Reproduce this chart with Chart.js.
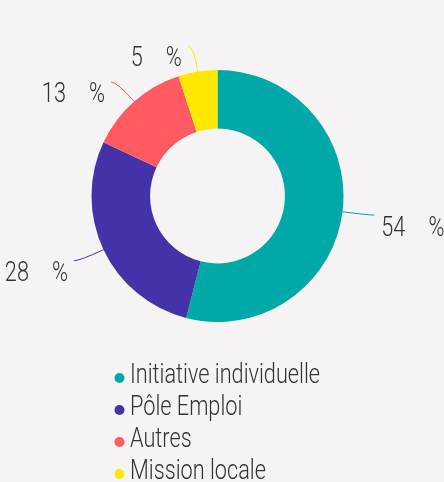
<!DOCTYPE html>
<html><head><meta charset="utf-8">
<style>html,body{margin:0;padding:0;background:#f5f3f4;}#wrap{width:444px;height:482px;position:relative}</style>
<script src="https://cdn.jsdelivr.net/npm/chart.js@4"></script>
</head><body><div id="wrap"><canvas id="c" width="444" height="482"></canvas></div>
<script>
const categories = ["Initiative individuelle", "Pôle Emploi", "Autres", "Mission locale"];
const values = [54, 28, 13, 5];
const colors = ["#00A9A8", "#4433A8", "#FF5A5F", "#FFE800"];
const labelSuffix = "%";

const TEXT_COLOR = "#333333";
const FONT = "300 27px Roboto";
let condense = 0.8;

function drawText(ctx, text, x, y, align) {
  ctx.save();
  ctx.font = FONT;
  const w = ctx.measureText(text).width * condense;
  let left = x;
  if (align === "right") left = x - w;
  ctx.translate(left, y);
  ctx.scale(condense, 1);
  ctx.textAlign = "left";
  ctx.textBaseline = "alphabetic";
  ctx.fillStyle = TEXT_COLOR;
  ctx.fillText(text, 0, 0);
  ctx.restore();
  return w;
}

const bgPlugin = {
  id: "bg",
  beforeDraw(chart) {
    const ctx = chart.ctx;
    ctx.save();
    ctx.fillStyle = "#f5f3f4";
    ctx.fillRect(0, 0, chart.width, chart.height);
    ctx.font = FONT;
    condense = 190 / ctx.measureText(categories[0]).width;
    ctx.restore();
  }
};

const labelPlugin = {
  id: "outLabels",
  afterDatasetsDraw(chart) {
    const ctx = chart.ctx;
    const meta = chart.getDatasetMeta(0);
    meta.data.forEach((arc, i) => {
      const p = arc.getProps(["x", "y", "startAngle", "endAngle", "outerRadius"], true);
      const mid = (p.startAngle + p.endAngle) / 2;
      const c = Math.cos(mid), s = Math.sin(mid);
      const sx = p.x + c * p.outerRadius, sy = p.y + s * p.outerRadius;
      const cx = p.x + c * (p.outerRadius + 26), cy = p.y + s * (p.outerRadius + 26);
      const dir = c >= 0 ? 1 : -1;
      const ex = cx + dir * 6, ey = cy;
      ctx.save();
      ctx.strokeStyle = colors[i];
      ctx.lineWidth = 1;
      ctx.beginPath();
      ctx.moveTo(sx, sy);
      ctx.quadraticCurveTo(cx, cy, ex, ey);
      ctx.stroke();
      ctx.restore();
      const num = String(chart.data.datasets[0].data[i]);
      const gap = 23;
      const baseY = ey + 11 + 9.5;
      if (dir > 0) {
        const x0 = ex + 7;
        const wn = drawText(ctx, num, x0, baseY, "left");
        drawText(ctx, labelSuffix, x0 + wn + gap, baseY, "left");
      } else {
        const x1 = ex - 6;
        const wp = drawText(ctx, labelSuffix, x1, baseY, "right");
        drawText(ctx, num, x1 - wp - gap, baseY, "right");
      }
    });
  }
};

const legendPlugin = {
  id: "customLegend",
  afterDraw(chart) {
    const ctx = chart.ctx;
    chart.data.labels.forEach((lab, i) => {
      const my = 378 + i * 32;
      ctx.save();
      ctx.fillStyle = colors[i];
      ctx.beginPath();
      ctx.arc(119.5, my, 5, 0, Math.PI * 2);
      ctx.fill();
      ctx.restore();
      drawText(ctx, lab, 130, my + 4.5, "left");
    });
  }
};

new Chart(document.getElementById("c"), {
  type: "doughnut",
  data: {
    labels: categories,
    datasets: [{
      data: values,
      backgroundColor: colors,
      borderWidth: 0
    }]
  },
  options: {
    responsive: false,
    animation: false,
    devicePixelRatio: 1,
    cutout: "53.5%",
    layout: { padding: { top: 70, bottom: 160, left: 0, right: 9 } },
    plugins: { legend: { display: false }, tooltip: { enabled: false } }
  },
  plugins: [bgPlugin, labelPlugin, legendPlugin]
});
</script></body></html>
